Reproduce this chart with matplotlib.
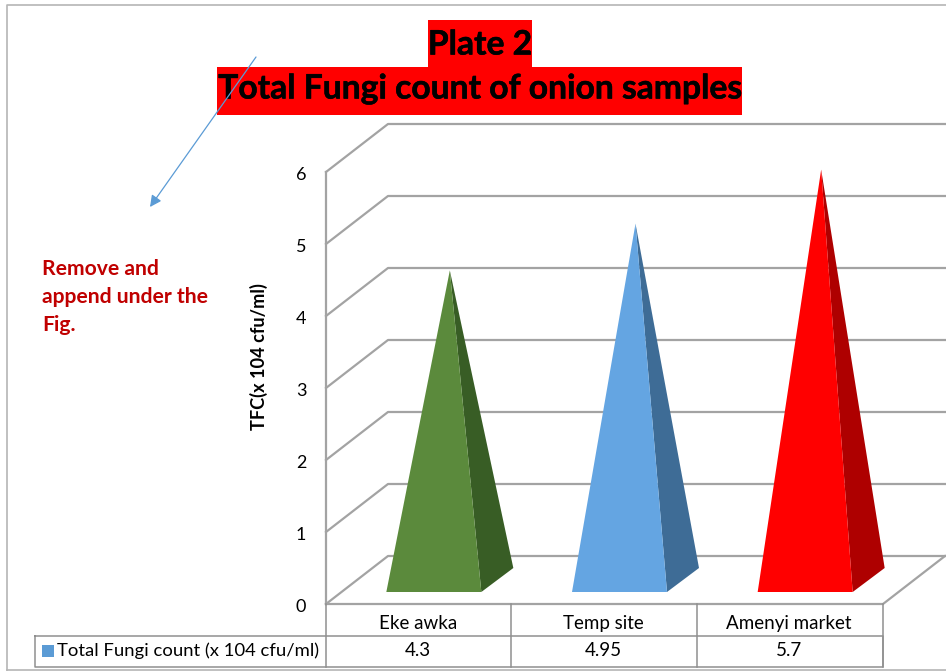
import matplotlib.pyplot as plt
import matplotlib.patheffects as pe
from matplotlib.patches import Polygon, Rectangle

plt.rcParams['font.family'] = ['Lato', 'DejaVu Sans']

# data
categories = ['Eke awka', 'Temp site', 'Amenyi market']
values = [4.3, 4.95, 5.7]
yticks = [0, 1, 2, 3, 4, 5, 6]
series_name = 'Total Fungi count (x 104 cfu/ml)'
front_colors = ['#5b8a3c', '#64a5e2', '#ff0000']
side_colors = ['#385d25', '#3e6c96', '#ae0000']
notes = ['Remove and', 'append under the', 'Fig.']

# chart box in pixels
x0, x1 = 326, 883
y0 = 604
unit = 72
dx, dy = 62, -48
grey = '#a3a3a3'


def ypos(v):
    return y0 - unit * v


fig = plt.figure(figsize=(9.46, 6.71), dpi=100)
ax = fig.add_axes([0, 0, 1, 1])
ax.set_xlim(0, 946)
ax.set_ylim(671, 0)
ax.axis('off')

# outer frame
ax.plot([7, 7, 946], [670, 4.5, 4.5], color='#b5b5b5', lw=1.2)
ax.plot([7, 946], [670, 670], color='#b5b5b5', lw=1.2)

# walls and gridlines
ax.plot([x0, x0], [ypos(6), y0], color=grey, lw=1.6)
for v in yticks:
    y = ypos(v)
    ax.plot([x0, x0 + dx, 946], [y, y + dy, y + dy], color=grey, lw=1.6)
    ax.text(301, y + 2.5, str(v), ha='center', va='center', fontsize=13)
ax.plot([x0, x1, x1 + dx], [y0, y0, y0 + dy], color=grey, lw=1.6)

# pyramids
cat_w = (x1 - x0) / len(categories)
for i, v in enumerate(values):
    cx = x0 + (i + 0.5) * cat_w + dx / 2
    cy = y0 + dy / 2
    apex = (cx, cy - unit * v)
    left = (cx - 63.5, cy + 12)
    front = (cx + 31.5, cy + 12)
    back = (cx + 63.5, cy - 12)
    ax.add_patch(Polygon([front, back, apex], closed=True, fc=side_colors[i], ec='none', zorder=3))
    ax.add_patch(Polygon([left, front, apex], closed=True, fc=front_colors[i], ec='none', zorder=3))

# data table
tc = '#8f8f8f'
row1, row2 = 636, 667
ax.plot([35, x1, x1, 35, 35], [row1, row1, row2, row2, row1], color=tc, lw=1.1)
for i in range(len(categories) + 1):
    xl = x0 + i * cat_w
    ax.plot([xl - 0.5, xl - 0.5], [y0, row2], color=tc, lw=1.1)
for i, c in enumerate(categories):
    xc = x0 + (i + 0.5) * cat_w
    ax.text(xc - 1, 623.5, c, ha='center', va='center', fontsize=13.5)
    ax.text(xc - 1, 650.5, str(values[i]), ha='center', va='center', fontsize=13.5)
ax.add_patch(Rectangle((42, 645), 12, 12, fc='#5b9bd5', ec='none'))
ax.text(57, 650.5, series_name, ha='left', va='center', fontsize=13.3)

# y label
ax.text(259, 357, 'TFC(x 104 cfu/ml)', rotation=90, ha='center', va='center',
        fontsize=13.1, fontweight='bold')

# title with red highlight
ax.add_patch(Rectangle((428, 20), 104, 47, fc='#ff0000', ec='none', zorder=4))
ax.add_patch(Rectangle((217, 67), 525, 48, fc='#ff0000', ec='none', zorder=4))
bold = [pe.withStroke(linewidth=0.4, foreground='black')]
ax.text(480, 44.5, 'Plate 2', ha='center', va='center', fontsize=24.2, fontweight='bold',
        zorder=5, path_effects=bold)
ax.text(480, 88.5, 'Total Fungi count of onion samples', ha='center', va='center',
        fontsize=24.2, fontweight='bold', zorder=5, path_effects=bold)

# arrow and comment
ax.annotate('', xy=(150, 207), xytext=(256, 57), zorder=6,
            arrowprops=dict(arrowstyle='-|>', color='#5b9bd5', lw=0.9, mutation_scale=17,
                            shrinkA=0, shrinkB=0))
for i, line in enumerate(notes):
    ax.text(42, 269 + 28 * i, line, color='#c00000', fontsize=15.2, fontweight='bold',
            ha='left', va='center')

fig.savefig('out.png', dpi=100)
